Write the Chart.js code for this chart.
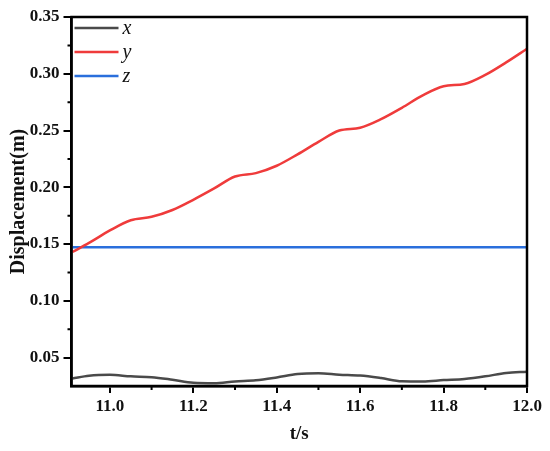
<!DOCTYPE html>
<html>
<head>
<meta charset="utf-8">
<script src="https://cdn.jsdelivr.net/npm/chart.js@4"></script>
<style>
  html, body { margin: 0; padding: 0; background: #fff; }
  #wrap { width: 550px; height: 451px; }
</style>
</head>
<body>
<div id="wrap"><canvas id="chart"></canvas></div>
<script>
// time samples (s)
const times = [10.91, 10.95, 11.0, 11.05, 11.1, 11.15, 11.2, 11.25, 11.3, 11.35, 11.4, 11.45,
               11.5, 11.55, 11.6, 11.65, 11.7, 11.75, 11.8, 11.85, 11.9, 11.95, 12.0];

// displacement (m)
const xDisp = [0.0316, 0.0340, 0.0348, 0.0335, 0.0328, 0.0305, 0.0278, 0.0274, 0.0290, 0.0300, 0.0325, 0.0355,
               0.0362, 0.0350, 0.0342, 0.0320, 0.0292, 0.0290, 0.0302, 0.0312, 0.0335, 0.0365, 0.0375];
const yDisp = [0.143, 0.151, 0.162, 0.171, 0.174, 0.180, 0.189, 0.199, 0.2095, 0.2125, 0.219, 0.229,
               0.240, 0.250, 0.2525, 0.260, 0.270, 0.281, 0.289, 0.291, 0.299, 0.310, 0.322];
const zDisp = [0.1472, 0.1472, 0.1472, 0.1473, 0.1473, 0.1473, 0.1472, 0.1472, 0.1472, 0.1473, 0.1472, 0.1472,
               0.1472, 0.1472, 0.1473, 0.1472, 0.1472, 0.1472, 0.1472, 0.1472, 0.1472, 0.1472, 0.1472];

const seriesNames = ["x", "y", "z"];
const seriesColors = ["#4a4a4a", "#ef3b3b", "#2a6fdc"];

// labelled (major) ticks and unlabelled (minor) ticks
const xLabels = ["11.0", "11.2", "11.4", "11.6", "11.8", "12.0"];
const xMinor = [10.9, 11.1, 11.3, 11.5, 11.7, 11.9];
const yLabels = ["0.05", "0.10", "0.15", "0.20", "0.25", "0.30", "0.35"];
const yMinor = [0.075, 0.125, 0.175, 0.225, 0.275, 0.325];

const serif = "'Liberation Serif', 'DejaVu Serif', serif";

function toPoints(vals) {
    return times.map((t, i) => ({ x: t, y: vals[i] }));
}

// box round the plot, minor ticks, legend in the top-left corner
const framePlugin = {
    id: "frame",
    afterDraw(chart) {
        const { ctx, chartArea: a, scales } = chart;
        ctx.save();
        ctx.strokeStyle = "#000";
        ctx.lineWidth = 2;
        ctx.beginPath();
        xMinor.forEach(v => {
            const px = scales.x.getPixelForValue(v);
            if (px < a.left) return;
            ctx.moveTo(px, a.bottom);
            ctx.lineTo(px, a.bottom + 4);
        });
        yMinor.forEach(v => {
            const py = scales.y.getPixelForValue(v);
            ctx.moveTo(a.left, py);
            ctx.lineTo(a.left - 4, py);
        });
        ctx.stroke();

        ctx.lineWidth = 2.5;
        ctx.strokeRect(a.left, a.top, a.right - a.left, a.bottom - a.top);

        ctx.font = "italic 20px " + serif;
        ctx.textBaseline = "middle";
        seriesNames.forEach((name, i) => {
            const y = a.top + 11 + i * 24;
            ctx.strokeStyle = seriesColors[i];
            ctx.lineWidth = 2.5;
            ctx.beginPath();
            ctx.moveTo(a.left + 3, y);
            ctx.lineTo(a.left + 47, y);
            ctx.stroke();
            ctx.fillStyle = "#111";
            ctx.fillText(name, a.left + 51, y + 1);
        });
        ctx.restore();
    }
};

const datasets = [xDisp, yDisp, zDisp].map((vals, i) => ({
    label: seriesNames[i],
    data: toPoints(vals),
    borderColor: seriesColors[i],
    borderWidth: 2.5,
    pointRadius: 0,
    cubicInterpolationMode: "monotone",
    fill: false
}));

new Chart(document.getElementById("chart"), {
    type: "line",
    data: { datasets: datasets },
    options: {
        responsive: true,
        maintainAspectRatio: false,
        animation: false,
        layout: { padding: { top: 17, right: 23, left: 0, bottom: 0 } },
        plugins: { legend: { display: false }, tooltip: { enabled: false } },
        scales: {
            x: {
                type: "linear",
                min: 10.908,
                max: 12.0,
                afterBuildTicks: s => { s.ticks = xLabels.map(v => ({ value: Number(v) })); },
                afterFit: s => { s.height = 65; },
                border: { display: true, color: "#000", width: 2.5 },
                grid: { drawOnChartArea: false, color: "#000", lineWidth: 2, tickLength: 7 },
                ticks: {
                    autoSkip: false,
                    maxRotation: 0,
                    padding: 3,
                    color: "#111",
                    font: { family: serif, size: 17, weight: "bold" },
                    callback: v => v.toFixed(1)
                },
                title: {
                    display: true,
                    text: "t/s",
                    color: "#111",
                    font: { family: serif, size: 19, weight: "bold" },
                    padding: { top: 4, bottom: 6 }
                }
            },
            y: {
                min: 0.025,
                max: 0.35,
                afterBuildTicks: s => { s.ticks = yLabels.map(v => ({ value: Number(v) })); },
                afterFit: s => { s.width = 71.5; },
                border: { display: true, color: "#000", width: 2.5 },
                grid: { drawOnChartArea: false, color: "#000", lineWidth: 2, tickLength: 8 },
                ticks: {
                    autoSkip: false,
                    padding: 4,
                    color: "#111",
                    font: { family: serif, size: 17, weight: "bold" },
                    callback: v => v.toFixed(2)
                },
                title: {
                    display: true,
                    text: "Displacement(m)",
                    color: "#111",
                    font: { family: serif, size: 20, weight: "bold" },
                    padding: { top: 7, bottom: 0 }
                }
            }
        }
    },
    plugins: [framePlugin]
});
</script>
</body>
</html>
